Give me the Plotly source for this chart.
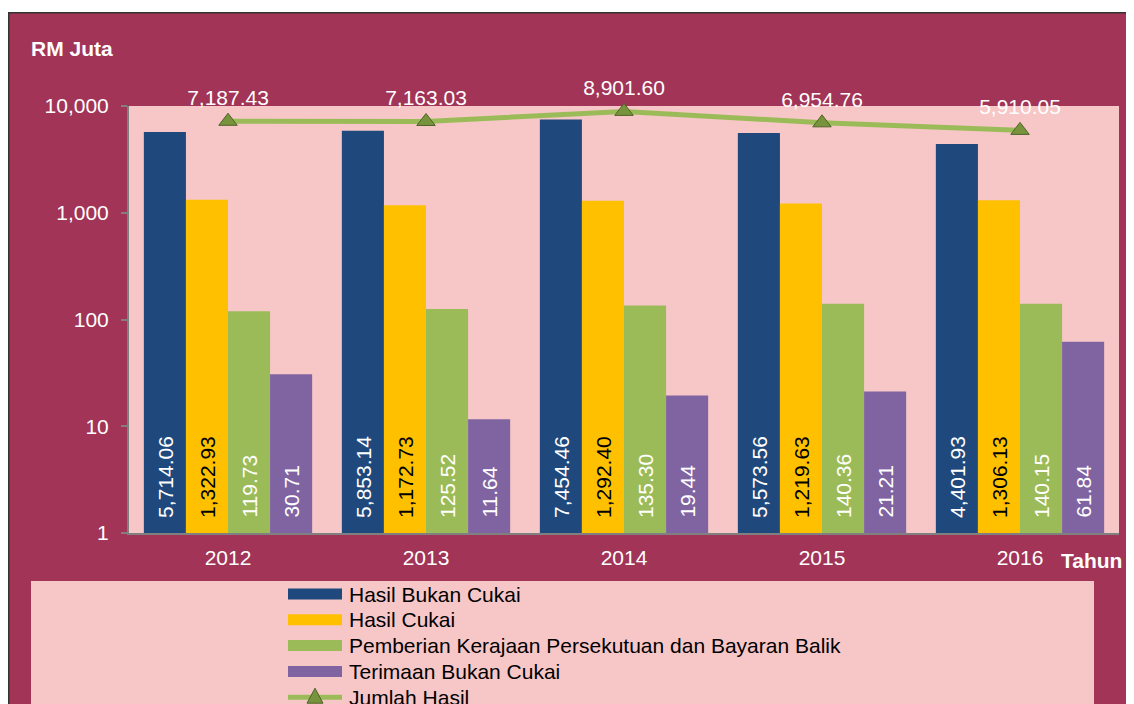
import plotly.graph_objects as go

# ---- data ----
years = ["2012", "2013", "2014", "2015", "2016"]
hasil_bukan_cukai = [5714.06, 5853.14, 7454.46, 5573.56, 4401.93]
hasil_cukai = [1322.93, 1172.73, 1292.40, 1219.63, 1306.13]
pemberian = [119.73, 125.52, 135.30, 140.36, 140.15]
terimaan = [30.71, 11.64, 19.44, 21.21, 61.84]
jumlah = [7187.43, 7163.03, 8901.60, 6954.76, 5910.05]

series_names = ["Hasil Bukan Cukai", "Hasil Cukai",
                "Pemberian Kerajaan Persekutuan dan Bayaran Balik",
                "Terimaan Bukan Cukai"]
line_name = "Jumlah Hasil"
y_tickvals = [1, 10, 100, 1000, 10000]
y_ticktext = ["1", "10", "100", "1,000", "10,000"]

# ---- style ----
OFF = 8  # page body margin
W, H = 1134, 704
ML, MR, MT, MB = 121, 23, 98, 179
PW, PH = W - ML - MR, H - MT - MB
FONT = "Liberation Sans, Arial, sans-serif"
FS = 21
MAROON = "#A13457"
PINK = "#F7C7C7"
bar_colors = ["#1F497D", "#FFC000", "#9BBB59", "#8064A2"]
text_colors = ["white", "black", "white", "white"]
LINE_COLOR = "#9BBB59"
MARKER_COLOR = "#77933C"
MARKER_EDGE = "#4F6228"
BARGAP = 0.15


def px_x(p):  # screen pixel -> paper x
    return (p - OFF - ML) / PW


def px_y(p):  # screen pixel -> paper y
    return (H - MB - (p - OFF)) / PH


fig = go.Figure()
series = [hasil_bukan_cukai, hasil_cukai, pemberian, terimaan]
for name, vals, col in zip(series_names, series, bar_colors):
    fig.add_trace(go.Bar(x=years, y=vals, name=name, marker_color=col,
                         marker_line_width=0, showlegend=False))

fig.add_trace(go.Scatter(
    x=years, y=jumlah, name=line_name, mode="lines+markers+text",
    line=dict(color=LINE_COLOR, width=5),
    marker=dict(symbol="triangle-up", size=16, color=MARKER_COLOR,
                line=dict(color=MARKER_EDGE, width=1)),
    text=[f"{v:,.2f}" for v in jumlah], textposition="top center",
    textfont=dict(family=FONT, size=FS, color="white"),
    cliponaxis=False, showlegend=False))

# vertical value labels at bar bases
band = PW / len(years)
barw = band * (1 - BARGAP) / len(series)
ann = []
for k, (vals, tc) in enumerate(zip(series, text_colors)):
    off = (k - (len(series) - 1) / 2) * barw
    for i, v in enumerate(vals):
        ann.append(dict(x=i, y=0, xref="x", yref="y", text=f"{v:,.2f}",
                        textangle=-90, showarrow=False, xanchor="center",
                        yanchor="bottom", xshift=off, yshift=13,
                        font=dict(family=FONT, size=FS, color=tc)))

ann.append(dict(x=px_x(29), y=px_y(48), xref="paper", yref="paper",
                text="<b>RM Juta</b>", showarrow=False, xanchor="left",
                yanchor="middle", font=dict(family=FONT, size=FS, color="white")))
ann.append(dict(x=px_x(1059), y=px_y(560), xref="paper", yref="paper",
                text="<b>Tahun</b>", showarrow=False, xanchor="left",
                yanchor="middle", font=dict(family=FONT, size=FS, color="white")))

shapes = [
    dict(type="rect", xref="paper", yref="paper", layer="below",
         x0=px_x(8.75), x1=px_x(W + 30), y0=px_y(12.75), y1=px_y(H + 30),
         fillcolor=MAROON, line=dict(color="#333333", width=1.5)),
    dict(type="rect", xref="paper", yref="paper", layer="below",
         x0=0, x1=1, y0=0, y1=1, fillcolor=PINK, line=dict(width=0)),
    dict(type="rect", xref="paper", yref="paper", layer="below",
         x0=px_x(31), x1=px_x(1094), y0=px_y(581), y1=px_y(H + 30),
         fillcolor=PINK, line=dict(width=0)),
]

# legend (Excel-style wide swatches)
LEG_X0, LEG_X1, LEG_TX = 288, 342, 347
LEG_Y0, LEG_DY = 594, 25.8
legend_names = series_names + [line_name]
for r, name in enumerate(legend_names):
    yc = LEG_Y0 + r * LEG_DY
    if r < len(series_names):
        shapes.append(dict(type="rect", xref="paper", yref="paper",
                           x0=px_x(LEG_X0), x1=px_x(LEG_X1),
                           y0=px_y(yc + 5.5), y1=px_y(yc - 5.5),
                           fillcolor=bar_colors[r], line=dict(width=0)))
    else:
        shapes.append(dict(type="line", xref="paper", yref="paper",
                           x0=px_x(LEG_X0), x1=px_x(LEG_X1),
                           y0=px_y(yc), y1=px_y(yc),
                           line=dict(color=LINE_COLOR, width=5)))
        xm = (LEG_X0 + LEG_X1) / 2
        path = (f"M {px_x(xm - 8)} {px_y(yc + 6)} L {px_x(xm + 8)} {px_y(yc + 6)} "
                f"L {px_x(xm)} {px_y(yc - 9)} Z")
        shapes.append(dict(type="path", xref="paper", yref="paper", path=path,
                           fillcolor=MARKER_COLOR,
                           line=dict(color=MARKER_EDGE, width=1)))
    ann.append(dict(x=px_x(LEG_TX), y=px_y(yc), xref="paper", yref="paper",
                    text=name, showarrow=False, xanchor="left",
                    yanchor="middle",
                    font=dict(family=FONT, size=FS, color="black")))

fig.update_layout(
    width=W, height=H, autosize=False,
    margin=dict(l=ML, r=MR, t=MT, b=MB, pad=0, autoexpand=False),
    paper_bgcolor="white", plot_bgcolor="rgba(0,0,0,0)",
    barmode="group", bargap=BARGAP, bargroupgap=0,
    font=dict(family=FONT, size=FS, color="white"),
    showlegend=False,
    annotations=ann, shapes=shapes,
)
fig.update_xaxes(type="category", range=[-0.5, 4.5], autorange=False,
                 showgrid=False, showline=True,
                 linecolor="#808080", linewidth=2, ticks="",
                 tickfont=dict(family=FONT, size=FS, color="white"),
                 ticklabelstandoff=5, zeroline=False)
fig.update_yaxes(type="log", range=[0, 4], autorange=False, showgrid=False,
                 showline=True,
                 linecolor="#808080", linewidth=2, ticks="outside",
                 ticklen=6, tickcolor="#808080", tickwidth=2,
                 tickvals=y_tickvals, ticktext=y_ticktext,
                 tickfont=dict(family=FONT, size=FS, color="white"),
                 ticklabelstandoff=8, zeroline=False)

fig.write_html("out.html")
